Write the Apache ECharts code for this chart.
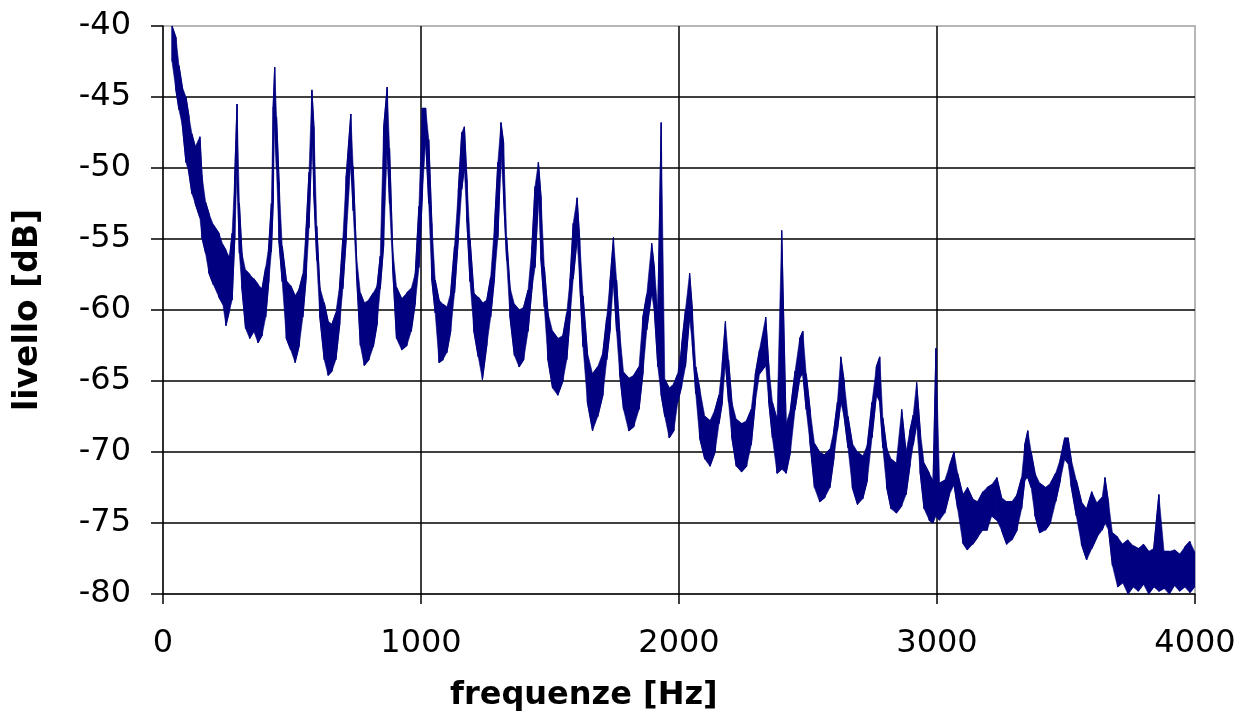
<!DOCTYPE html>
<html>
<head>
<meta charset="utf-8">
<script src="https://cdn.jsdelivr.net/npm/echarts@6/dist/echarts.min.js"></script>
<style>
html,body{margin:0;padding:0;background:#fff;}
#chart{width:1247px;height:713px;}
</style>
</head>
<body>
<div id="chart"></div>
<script>
// Frequency (Hz) of each reading and the lower / upper edge of the noisy trace (dB)
const freqHz = [35,50,62,75,89,100,112,125,143,151,165,178,195,217,232,244,258,268,278,287,296,306,320,336,352,368,384,398,410,420,427,433,440,450,462,478,495,512,528,542,555,566,577,585,596,608,625,640,655,670,685,697,710,728,737,750,765,780,798,815,830,842,855,869,878,890,905,925,945,962,978,992,1005,1018,1030,1042,1055,1070,1085,1100,1115,1130,1145,1158,1168,1178,1190,1205,1222,1238,1255,1270,1285,1298,1310,1320,1332,1345,1362,1380,1398,1415,1430,1442,1455,1465,1478,1492,1510,1530,1550,1565,1578,1590,1605,1615,1628,1645,1665,1685,1705,1720,1733,1746,1758,1770,1785,1805,1825,1845,1860,1875,1894,1905,1918,1931,1945,1962,1980,1995,2010,2025,2041,2052,2065,2080,2100,2120,2140,2155,2168,2180,2192,2205,2222,2242,2262,2280,2296,2312,2336,2348,2362,2380,2398,2415,2432,2450,2468,2480,2493,2508,2525,2545,2565,2585,2600,2614,2627,2640,2655,2672,2692,2712,2730,2748,2765,2778,2790,2805,2822,2842,2863,2880,2895,2908,2921,2935,2950,2970,2985,2996,3010,3030,3048,3066,3080,3100,3118,3138,3158,3178,3195,3212,3232,3250,3270,3290,3310,3328,3340,3352,3365,3380,3398,3420,3440,3460,3478,3495,3508,3520,3540,3560,3580,3600,3620,3640,3651,3665,3680,3700,3720,3740,3760,3780,3800,3820,3840,3860,3880,3900,3920,3940,3960,3980,3998];
const levelLo = [-42.5,-44.5,-45.9,-47,-49.6,-50.3,-51.8,-52.5,-53.5,-54.9,-56,-57.4,-58.2,-59.1,-59.6,-61.1,-60,-59.3,-55,-50,-56,-58.5,-61.3,-62,-61.5,-62.3,-61.8,-60.5,-58,-55.9,-52.5,-46.5,-50.1,-55.3,-58,-62,-62.8,-63.7,-62.5,-60.5,-57.7,-54.2,-48,-52,-56.5,-60.5,-63.5,-64.6,-64.3,-63.5,-61,-58.5,-55,-49.5,-53,-57.5,-62.5,-63.9,-63.5,-62.6,-61,-58.5,-55.5,-48.5,-52.5,-57,-62,-62.8,-62.5,-61.5,-59.5,-57,-52,-48,-52.5,-57.9,-60.2,-63.7,-63.5,-63,-61.5,-58.8,-54.9,-51.5,-50,-53.8,-58,-61.5,-63.3,-64.9,-62.5,-60.5,-57.7,-54.9,-49,-52,-56.5,-60.5,-63.2,-64,-63.5,-61.5,-58.5,-57,-52,-56.5,-59.8,-63.5,-65.5,-66,-65,-63.5,-60.5,-57.8,-55,-58,-62.6,-66.5,-68.5,-67.5,-66,-63.5,-61.4,-57.9,-61.5,-64.5,-67,-68.5,-68.2,-67,-64.5,-61.4,-58.8,-60.2,-64,-66,-67.5,-69,-68.5,-66.5,-65.4,-64,-60.5,-62.5,-65.9,-69,-70.5,-71,-70,-68,-66.5,-63.7,-66.5,-69,-71,-71.4,-71,-69.5,-66.5,-64.5,-63.9,-66.5,-69,-71.5,-71.2,-71.5,-70,-67,-64.8,-64.5,-67,-69.4,-72.5,-73.5,-73.2,-72.5,-70.5,-68.5,-66.5,-67.5,-69.7,-72.5,-73.7,-73.3,-72,-69,-66,-66.5,-69.7,-72.5,-74,-74.3,-73.8,-73,-71,-69.5,-68,-71.5,-74,-74.8,-75,-74.5,-74.8,-74.3,-73,-72.3,-74,-76.4,-76.9,-76.5,-76,-75.5,-75.5,-74.5,-74.8,-75.5,-76.5,-76.2,-75.5,-74,-72,-71.8,-72.5,-74.5,-75.7,-75.5,-75,-73.5,-72,-70.5,-70.8,-72.4,-74.5,-76.5,-77.6,-76.8,-76,-75.5,-75,-75.5,-78,-79.5,-79.2,-80,-79.5,-79.8,-79.3,-80,-79.5,-79.8,-79.6,-80,-79.4,-79.8,-79.5,-79.9,-79.5];
const levelHi = [-40,-40.8,-42.8,-44.3,-45,-46.3,-47.6,-48.5,-47.8,-50.5,-52.4,-53.2,-54,-54.6,-55.4,-55.8,-56.3,-54.6,-50.6,-45.5,-52.5,-56,-57.2,-57.5,-57.8,-58.2,-58.5,-57,-55.5,-52.5,-45.7,-42.9,-46.4,-51,-55.5,-57.9,-58.3,-59,-58.5,-57.5,-54.2,-50.3,-44.5,-47.1,-54.1,-58.4,-59.5,-60.8,-61,-60.2,-58.2,-55,-50.6,-46.2,-49.9,-56.2,-58.8,-59.5,-59.3,-58.8,-58.3,-56.2,-47.2,-44.3,-48.6,-55.6,-58.4,-59.2,-58.8,-58.5,-57.4,-52.7,-45.8,-45.8,-48,-53.9,-57.9,-59.3,-59.6,-59.8,-58.8,-55.5,-51.5,-47.5,-47.1,-50.8,-55,-58.8,-59.1,-59.5,-59.3,-57.7,-54,-49.6,-46.8,-48.2,-54.9,-58.4,-59.6,-60,-59.8,-58.6,-55.5,-51.3,-49.6,-52,-57,-60.2,-61.5,-62,-61.8,-60.2,-57.8,-53.9,-52.1,-55,-59,-63,-64.5,-64,-63,-60.5,-57.9,-54.9,-57.9,-61.5,-64.4,-64.8,-64.6,-64,-60.5,-58.9,-55.3,-57.1,-60.2,-46.8,-64.9,-65.5,-65.2,-64.5,-62.5,-60,-57.4,-60,-64,-65.5,-67.5,-67.8,-67,-66,-63.7,-60.8,-63.5,-66.5,-67.7,-68,-67.8,-67,-64.5,-62.8,-60.5,-63.9,-66.5,-67.7,-54.4,-68,-67,-64.3,-62,-61.5,-64.5,-67,-69.4,-70,-70.2,-69.8,-68.5,-66.5,-63.3,-65,-67.5,-69.4,-70,-70.3,-69.5,-66.5,-64,-63.3,-67.6,-69.7,-70.5,-70.8,-67,-70,-68.5,-67.4,-65.1,-68.5,-70.8,-71.5,-72,-62.7,-72.2,-72,-71,-70,-71.5,-73,-72.5,-73.3,-73.5,-72.8,-72.5,-72.3,-71.8,-73.2,-73.5,-73.5,-73,-71.8,-69.5,-68.5,-70,-71.5,-72.2,-72.5,-72.2,-71.5,-70.5,-69,-69,-70.5,-72,-73.5,-74,-72.8,-73.6,-73.2,-71.8,-73.6,-75.7,-76,-76.5,-76.2,-76.6,-76.8,-76.5,-77,-76.8,-73,-77,-77,-76.9,-77.2,-76.7,-76.3,-77];
const xTicks = [0, 1000, 2000, 3000, 4000];
const yTicks = [-80, -75, -70, -65, -60, -55, -50, -45, -40];

// Trace: at each reading draw the spread from low to high edge, alternating direction
const trace = [];
for (let i = 0; i < freqHz.length; i++) {
  if (i % 2 === 0) { trace.push([freqHz[i], levelLo[i]], [freqHz[i], levelHi[i]]); }
  else { trace.push([freqHz[i], levelHi[i]], [freqHz[i], levelLo[i]]); }
}
// Band segments between consecutive readings: [f0, lo0, hi0, f1, lo1, hi1]
const bandSegments = [];
for (let i = 0; i < freqHz.length - 1; i++) {
  bandSegments.push([freqHz[i], levelLo[i], levelHi[i], freqHz[i + 1], levelLo[i + 1], levelHi[i + 1]]);
}

const NAVY = '#000080';
const chart = echarts.init(document.getElementById('chart'), null, {renderer: 'canvas'});
const font = 'DejaVu Sans';
chart.setOption({
  animation: false,
  backgroundColor: '#ffffff',
  title: {
    text: 'frequenze [Hz]',
    left: 445, top: 675,
    textStyle: {fontFamily: font, fontWeight: 'bold', fontSize: 32, color: '#000'}
  },
  grid: {left: 163, right: 52, top: 26, bottom: 119, show: true, borderColor: '#a0a0a0', borderWidth: 1.5, backgroundColor: '#fff'},
  xAxis: {
    type: 'value', min: xTicks[0], max: xTicks[xTicks.length - 1], interval: 1000,
    axisLine: {show: true, onZero: false, lineStyle: {color: '#000', width: 1.5}},
    axisTick: {show: true, inside: false, length: 10, lineStyle: {color: '#000', width: 1.5}},
    axisLabel: {fontFamily: font, fontSize: 32, color: '#000', margin: 34, formatter: v => String(v)},
    splitLine: {show: true, showMinLine: false, showMaxLine: false, lineStyle: {color: '#000', width: 1.5}}
  },
  yAxis: {
    type: 'value', min: yTicks[0], max: yTicks[yTicks.length - 1], interval: 5,
    name: 'livello [dB]', nameLocation: 'middle', nameRotate: 90, nameGap: 118,
    nameTextStyle: {fontFamily: font, fontWeight: 'bold', fontSize: 33, color: '#000'},
    axisLine: {show: true, lineStyle: {color: '#000', width: 1.5}},
    axisTick: {show: true, inside: false, length: 12, lineStyle: {color: '#000', width: 1.5}},
    axisLabel: {fontFamily: font, fontSize: 32, color: '#000', margin: 32, formatter: v => String(v)},
    splitLine: {show: true, showMinLine: false, showMaxLine: false, lineStyle: {color: '#000', width: 1.5}}
  },
  series: [
    {
      type: 'custom', data: bandSegments, clip: true, silent: true, z: 2,
      encode: {x: [0, 3], y: [1, 2, 4, 5]},
      renderItem: function (params, api) {
        const a = api.coord([api.value(0), api.value(1)]);
        const b = api.coord([api.value(0), api.value(2)]);
        const c = api.coord([api.value(3), api.value(5)]);
        const d = api.coord([api.value(3), api.value(4)]);
        return {
          type: 'polygon',
          shape: {points: [a, b, c, d]},
          style: {fill: NAVY, stroke: NAVY, lineWidth: 0.6}
        };
      }
    },
    {
      type: 'line', data: trace, showSymbol: false, clip: true, z: 3,
      lineStyle: {color: NAVY, width: 1.2}, itemStyle: {color: NAVY}
    }
  ]
});
</script>
</body>
</html>
